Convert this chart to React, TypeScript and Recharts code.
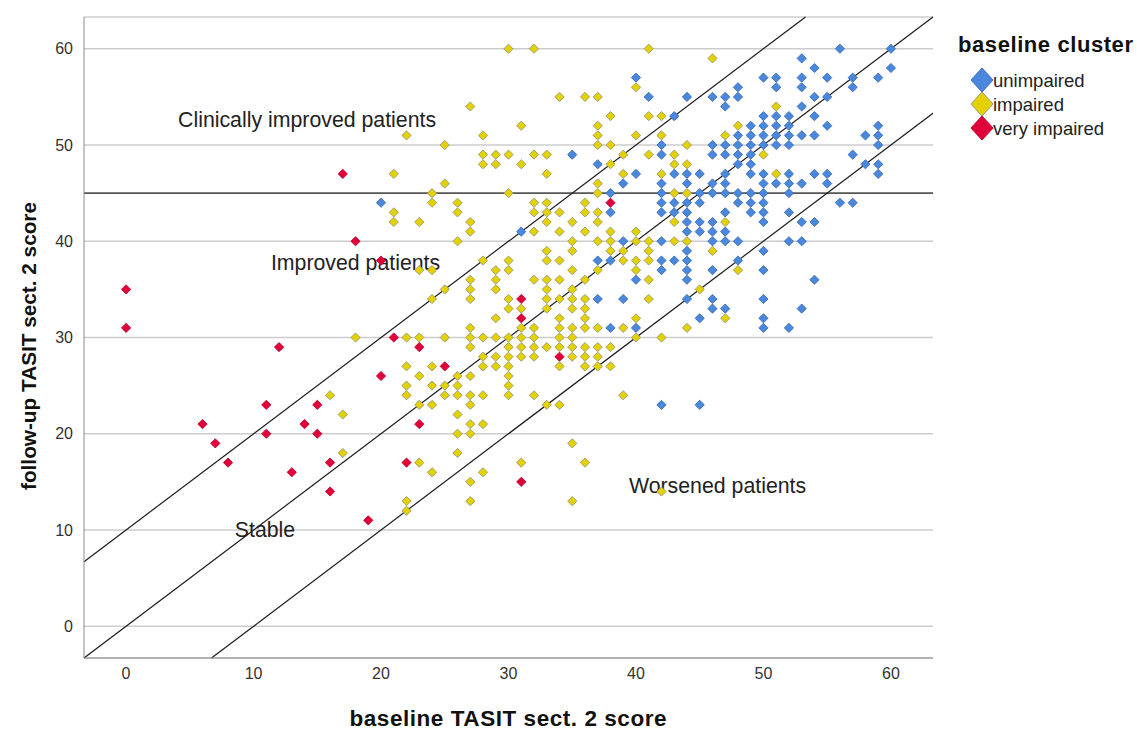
import React from 'react';
import {
  ScatterChart,
  Scatter,
  XAxis,
  YAxis,
  CartesianGrid,
  ReferenceLine,
  ReferenceDot,
} from 'recharts';

// baseline score, follow-up score
const unimpaired: [number, number][] = [
  [20, 44], [31, 41], [42, 23], [45, 23],
  [40, 57], [48, 56], [41, 55], [44, 55], [46, 55], [47, 55], [48, 55], [47, 54], [43, 53],
  [49, 52], [48, 51], [49, 51], [42, 50], [46, 50], [47, 50], [48, 50], [49, 50],
  [35, 49], [42, 49], [46, 49], [47, 49], [48, 49], [49, 49], [37, 48], [48, 48],
  [40, 47], [43, 47], [44, 47], [45, 47], [47, 47], [39, 46], [42, 46], [44, 46], [46, 46], [47, 46],
  [38, 45], [42, 45], [45, 45], [46, 45], [47, 45], [48, 45],
  [42, 44], [43, 44], [44, 44], [45, 44], [48, 44], [38, 43], [42, 43], [43, 43], [44, 43], [47, 43], [49, 43],
  [44, 42], [45, 42], [46, 42], [44, 41], [45, 41], [46, 41], [47, 41],
  [39, 40], [42, 40], [46, 40], [47, 40], [48, 40], [44, 39],
  [37, 38], [38, 38], [42, 38], [43, 38], [44, 38], [48, 38], [42, 37], [44, 37], [46, 37],
  [40, 36], [44, 36], [37, 34], [39, 34], [44, 34], [46, 34], [46, 33], [47, 33], [45, 32], [38, 31], [40, 31],
  [56, 60], [60, 60], [53, 59], [54, 58], [60, 58],
  [50, 57], [51, 57], [53, 57], [55, 57], [57, 57], [59, 57], [51, 56], [53, 56], [57, 56],
  [54, 55], [55, 55], [53, 54], [50, 53], [51, 53], [52, 53], [54, 53],
  [50, 52], [51, 52], [52, 52], [55, 52], [59, 52],
  [50, 51], [51, 51], [52, 51], [53, 51], [54, 51], [58, 51], [59, 51],
  [50, 50], [51, 50], [52, 50], [59, 50], [57, 49], [49, 48], [58, 48], [59, 48],
  [49, 47], [50, 47], [52, 47], [54, 47], [55, 47], [59, 47],
  [50, 46], [51, 46], [52, 46], [53, 46], [55, 46], [49, 45], [50, 45], [52, 45],
  [49, 44], [50, 44], [56, 44], [57, 44], [50, 43], [52, 43], [50, 42], [53, 42], [54, 42],
  [52, 40], [53, 40], [50, 39], [50, 37], [54, 36], [50, 34], [53, 33], [50, 32], [50, 31], [52, 31],
];

const impaired: [number, number][] = [
  [18, 30], [16, 24], [17, 22], [17, 18],
  [30, 60], [32, 60], [34, 55], [27, 54], [31, 52], [22, 51], [28, 51], [25, 50],
  [28, 49], [29, 49], [30, 49], [32, 49], [33, 49], [28, 48], [29, 48], [31, 48],
  [21, 47], [33, 47], [25, 46], [24, 45], [30, 45],
  [24, 44], [26, 44], [32, 44], [33, 44], [21, 43], [26, 43], [32, 43], [33, 43],
  [21, 42], [23, 42], [27, 42], [33, 42], [27, 41], [32, 41], [26, 40], [33, 39],
  [28, 38], [30, 38], [33, 38], [23, 37], [24, 37], [29, 37], [30, 37],
  [27, 36], [29, 36], [32, 36], [33, 36], [25, 35], [27, 35], [29, 35], [33, 35],
  [24, 34], [27, 34], [30, 34], [33, 34], [30, 33], [31, 33], [33, 33], [29, 32],
  [27, 31], [31, 31], [32, 31],
  [22, 30], [23, 30], [25, 30], [27, 30], [28, 30], [29, 30], [30, 30], [31, 30], [32, 30],
  [27, 29], [30, 29], [31, 29], [32, 29], [33, 29], [28, 28], [29, 28], [30, 28], [31, 28], [32, 28],
  [22, 27], [24, 27], [28, 27], [29, 27], [30, 27], [23, 26], [26, 26], [27, 26], [30, 26],
  [22, 25], [24, 25], [25, 25], [26, 25], [30, 25],
  [22, 24], [25, 24], [26, 24], [27, 24], [28, 24], [30, 24], [32, 24],
  [23, 23], [24, 23], [27, 23], [33, 23], [26, 22], [27, 21], [28, 21], [26, 20], [27, 20],
  [26, 18], [23, 17], [31, 17], [24, 16], [28, 16], [27, 15], [22, 13], [27, 13], [22, 12],
  [34, 27], [36, 27], [37, 27], [38, 27], [39, 24], [34, 23], [35, 19], [36, 17], [35, 13], [42, 14],
  [41, 60], [46, 59], [40, 56], [36, 55], [37, 55], [38, 53], [41, 53], [42, 53],
  [37, 52], [48, 52], [37, 51], [40, 51], [42, 51], [47, 51], [37, 50], [38, 50], [44, 50],
  [39, 49], [41, 49], [43, 49], [38, 48], [43, 48], [44, 48], [39, 47], [42, 47], [37, 46],
  [37, 45], [43, 45], [44, 45],
  [36, 44], [34, 43], [36, 43], [37, 43], [35, 42], [37, 42], [43, 42], [47, 42],
  [34, 41], [36, 41], [38, 41], [40, 41],
  [35, 40], [37, 40], [38, 40], [40, 40], [41, 40], [43, 40], [44, 40],
  [35, 39], [38, 39], [39, 39], [41, 39], [46, 39], [34, 38], [39, 38], [40, 38], [41, 38],
  [35, 37], [37, 37], [40, 37], [48, 37], [34, 36], [36, 36], [41, 36], [35, 35], [45, 35],
  [34, 34], [35, 34], [36, 34], [41, 34], [35, 33], [36, 33], [34, 32], [36, 32], [40, 32], [47, 32],
  [34, 31], [35, 31], [36, 31], [37, 31], [39, 31], [44, 31], [34, 30], [35, 30], [40, 30], [42, 30],
  [34, 29], [35, 29], [36, 29], [37, 29], [38, 29], [35, 28], [36, 28], [37, 28],
  [51, 54], [50, 49], [51, 47],
];

const veryImpaired: [number, number][] = [
  [0, 35], [0, 31], [6, 21], [7, 19], [8, 17], [11, 23], [11, 20], [12, 29], [13, 16],
  [14, 21], [15, 23], [15, 20], [16, 17], [16, 14], [17, 47], [18, 40], [19, 11],
  [20, 38], [20, 26], [21, 30], [22, 17], [23, 29], [23, 21], [25, 27],
  [31, 34], [31, 32], [31, 15], [34, 28], [38, 44],
];

const axisTicks = [0, 10, 20, 30, 40, 50, 60];
const domainMin = -3.3;
const domainMax = 63.3;
const bandOffsets = [10, 0, -10];
const clinicalCutoff = 45;

const annotations = [
  { text: 'Clinically improved patients', x: 14.2, y: 52.6 },
  { text: 'Improved patients', x: 18.0, y: 37.7 },
  { text: 'Stable', x: 10.9, y: 10.0 },
  { text: 'Worsened patients', x: 46.4, y: 14.6 },
];

const clusters = [
  { name: 'unimpaired', data: unimpaired, fill: '#4a88de', stroke: '#3a6cb8' },
  { name: 'impaired', data: impaired, fill: '#e4d200', stroke: '#9a9872' },
  { name: 'very impaired', data: veryImpaired, fill: '#e0003a', stroke: '#c8002e' },
];

const toPoints = (arr: [number, number][]) => arr.map(([x, y]) => ({ x, y }));

const diamond = (fill: string, stroke: string, r = 4.6) => (props: any) => {
  const { cx, cy } = props;
  if (cx == null || cy == null) return <g />;
  return (
    <polygon
      points={`${cx},${cy - r} ${cx + r},${cy} ${cx},${cy + r} ${cx - r},${cy}`}
      fill={fill}
      stroke={stroke}
      strokeWidth={0.9}
    />
  );
};

const segmentFor = (offset: number) => {
  const x1 = Math.max(domainMin, domainMin - offset);
  const x2 = Math.min(domainMax, domainMax - offset);
  return [
    { x: x1, y: x1 + offset },
    { x: x2, y: x2 + offset },
  ];
};

const XLabel = () => (
  <text x={508} y={726} textAnchor="middle" fontSize={22.5} fontWeight="bold" fill="#111" textLength={317}>
    baseline TASIT sect. 2 score
  </text>
);

const YLabel = () => (
  <text
    x={28}
    y={346}
    textAnchor="middle"
    dominantBaseline="central"
    fontSize={21}
    fontWeight="bold"
    fill="#111"
    transform="rotate(-90 28 346)"
    textLength={288}
    lengthAdjust="spacingAndGlyphs"
  >
    follow-up TASIT sect. 2 score
  </text>
);

const ClusterLegend = () => (
  <svg width={192} height={125} style={{ position: 'absolute', left: 945, top: 25 }}>
    <text x={13} y={27} fontSize={22} fontWeight="bold" fill="#111" textLength={175}>
      baseline cluster
    </text>
    {clusters.map((c, i) => {
      const cy = 55 + i * 24;
      const r = 12;
      return (
        <g key={c.name}>
          <polygon
            points={`37,${cy - r} ${37 + r - 1},${cy} 37,${cy + r} ${37 - r + 1},${cy}`}
            fill={c.fill}
            stroke={c.stroke}
            strokeWidth={1}
          />
          <text x={48} y={cy} dominantBaseline="central" fontSize={18.5} fill="#222">
            {c.name}
          </text>
        </g>
      );
    })}
  </svg>
);

export default function App() {
  return (
    <div style={{ position: 'absolute', left: 0, top: 0, width: 1137, height: 732, fontFamily: '"Liberation Sans", Arial, sans-serif', background: '#fff' }}>
      <ScatterChart width={1137} height={732} margin={{ top: 17, right: 204, bottom: 0, left: 0 }}>
        <CartesianGrid horizontal vertical={false} stroke="#cccccc" strokeWidth={1.3} />
        <XAxis
          type="number"
          dataKey="x"
          domain={[domainMin, domainMax]}
          allowDataOverflow
          ticks={axisTicks}
          tickLine={false}
          axisLine={{ stroke: '#8a8a8a' }}
          tick={{ fill: '#333', fontSize: 16 }}
          tickMargin={4}
          height={74}
          label={<XLabel />}
        />
        <YAxis
          type="number"
          dataKey="y"
          domain={[domainMin, domainMax]}
          allowDataOverflow
          ticks={axisTicks}
          tickLine={false}
          axisLine={{ stroke: '#8a8a8a' }}
          tick={{ fill: '#333', fontSize: 16 }}
          tickMargin={5}
          width={84}
          label={<YLabel />}
        />
        <ReferenceLine y={clinicalCutoff} stroke="#555" strokeWidth={1.6} ifOverflow="visible" />
        {bandOffsets.map((o) => (
          <ReferenceLine key={o} segment={segmentFor(o)} stroke="#1a1a1a" strokeWidth={1.2} ifOverflow="visible" />
        ))}
        {annotations.map((a) => (
          <ReferenceDot
            key={a.text}
            x={a.x}
            y={a.y}
            ifOverflow="visible"
            shape={(p: any) => (
              <text x={p.cx} y={p.cy} textAnchor="middle" dominantBaseline="central" fontSize={21.3} fill="#222">
                {a.text}
              </text>
            )}
          />
        ))}
        {clusters.map((c) => (
          <Scatter
            key={c.name}
            name={c.name}
            data={toPoints(c.data)}
            shape={diamond(c.fill, c.stroke)}
            isAnimationActive={false}
          />
        ))}
      </ScatterChart>
      <ClusterLegend />
    </div>
  );
}
